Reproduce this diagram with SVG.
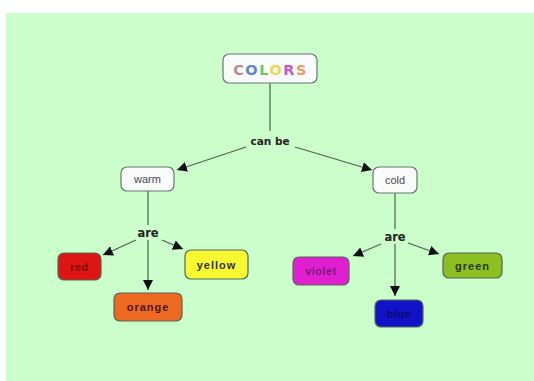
<svg xmlns="http://www.w3.org/2000/svg" width="534" height="381" viewBox="0 0 534 381">
<defs>
<style>
.box{stroke:#556655;stroke-width:1.2}
.white{fill:#f9fbfb;stroke:#667770;stroke-width:1.2}
.lbl{font-family:"Liberation Sans",Arial,sans-serif;font-weight:bold;text-anchor:middle}
.title{font-family:"DejaVu Sans",Verdana,sans-serif;font-weight:bold;text-anchor:middle}
.plain{font-family:"Liberation Sans",Arial,sans-serif;text-anchor:middle;font-size:11px;fill:#4a4a55}
.link{font-family:"DejaVu Sans",Verdana,sans-serif;font-weight:bold;text-anchor:middle;fill:#222}
.c{fill:none;stroke:#4f6050;stroke-width:1.2}
</style>
<marker id="ah" viewBox="0 0 10 10" refX="10" refY="5" markerWidth="10" markerHeight="10" markerUnits="userSpaceOnUse" orient="auto">
<path d="M0,0 L10,5 L0,10 z" fill="#111"/>
</marker>
</defs>
<rect x="6" y="13" width="528" height="368" fill="#cbfecb"/>
<g id="connectors">
<line class="c" x1="270" y1="83" x2="270" y2="131"/>
<line class="c" x1="246" y1="147" x2="177" y2="170" marker-end="url(#ah)"/>
<line class="c" x1="295" y1="147" x2="372" y2="170" marker-end="url(#ah)"/>
<line class="c" x1="148" y1="191" x2="148" y2="225"/>
<line class="c" x1="136" y1="240" x2="103" y2="255" marker-end="url(#ah)"/>
<line class="c" x1="162" y1="240" x2="183" y2="249" marker-end="url(#ah)"/>
<line class="c" x1="148" y1="240" x2="148" y2="290" marker-end="url(#ah)"/>
<line class="c" x1="395" y1="193" x2="395" y2="229"/>
<line class="c" x1="381" y1="244" x2="353" y2="256" marker-end="url(#ah)"/>
<line class="c" x1="408" y1="243" x2="439" y2="254" marker-end="url(#ah)"/>
<line class="c" x1="395" y1="244" x2="395" y2="296" marker-end="url(#ah)"/>
<text class="link" x="270" y="145" font-size="10.5">can be</text>
<text class="link" x="148" y="237" font-size="11.5">are</text>
<text class="link" x="395" y="241" font-size="11.5">are</text>
</g>
<g id="colors">
<rect class="white" x="223" y="54" width="94" height="29" rx="6"/>
<text class="title" x="270.5" y="75" font-size="14.5" letter-spacing="1.5"><tspan fill="#b98a8e">C</tspan><tspan fill="#5d85c8">O</tspan><tspan fill="#74c65a">L</tspan><tspan fill="#ecd84a">O</tspan><tspan fill="#c458c8">R</tspan><tspan fill="#ee9a6a">S</tspan></text>
</g>
<g id="warm">
<rect class="white" x="121" y="167" width="53" height="24" rx="6"/>
<text class="plain" x="147.5" y="183">warm</text>
</g>
<g id="cold">
<rect class="white" x="373" y="167" width="44" height="26" rx="6"/>
<text class="plain" x="395" y="184">cold</text>
</g>
<g id="red">
<rect class="box" x="58" y="253" width="43" height="27" rx="6" fill="#dd1515" stroke="#7a2020"/>
<text class="lbl" x="79.5" y="271" font-size="11" fill="#8a0a0a" letter-spacing="0.5">red</text>
</g>
<g id="yellow">
<rect class="box" x="185" y="250" width="63" height="29" rx="6" fill="#f8f830" stroke="#807a20"/>
<text class="lbl" x="216.5" y="269" font-size="11" fill="#333" letter-spacing="1">yellow</text>
</g>
<g id="orange">
<rect class="box" x="114" y="293" width="68" height="28" rx="6" fill="#ee6a22" stroke="#7a4020"/>
<text class="lbl" x="148" y="311" font-size="11" fill="#4a1a0a" letter-spacing="1">orange</text>
</g>
<g id="violet">
<rect class="box" x="293" y="257" width="56" height="28" rx="6" fill="#e020d0" stroke="#702070"/>
<text class="lbl" x="321" y="275" font-size="11" fill="#7a1a80" letter-spacing="0.5">violet</text>
</g>
<g id="blue">
<rect class="box" x="375" y="300" width="48" height="27" rx="6" fill="#1212c8" stroke="#101060"/>
<text class="lbl" x="399" y="318" font-size="11" fill="#0a0a70" letter-spacing="0.5">blue</text>
</g>
<g id="green">
<rect class="box" x="443" y="253" width="59" height="25" rx="6" fill="#8cbf22" stroke="#3f5a18"/>
<text class="lbl" x="472.5" y="270" font-size="11" fill="#2a3a10" letter-spacing="1">green</text>
</g>
</svg>
